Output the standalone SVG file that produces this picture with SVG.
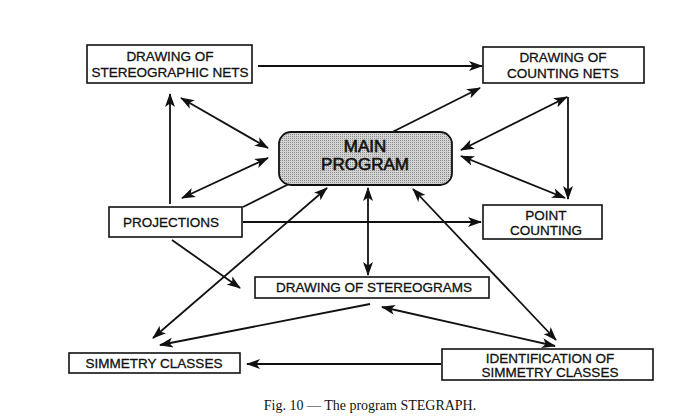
<svg xmlns="http://www.w3.org/2000/svg" width="697" height="417" viewBox="0 0 697 417">
<style>
.box{fill:#fff;stroke:#111;stroke-width:1.6}
.main{fill:url(#dots);stroke:#111;stroke-width:1.8}
.t{font-family:"Liberation Sans",Arial,sans-serif;font-size:13.5px;fill:#111;stroke:#111;stroke-width:0.3;text-anchor:middle}
.tm{font-family:"Liberation Sans",Arial,sans-serif;font-size:17px;fill:#111;stroke:#111;stroke-width:0.6;text-anchor:middle}
.cap{font-family:"Liberation Serif","Times New Roman",serif;font-size:14px;fill:#111;text-anchor:middle}
.c{stroke:#111;stroke-width:1.8;fill:none}
.e{marker-end:url(#ah)}
.b{marker-end:url(#ah);marker-start:url(#ah)}
</style>
<defs>
<marker id="ah" viewBox="0 0 14 10" refX="13" refY="5" markerWidth="14" markerHeight="10" markerUnits="userSpaceOnUse" orient="auto-start-reverse">
<path d="M0,0 L14,5 L0,10 L3.5,5 Z" fill="#111"/>
</marker>
<pattern id="dots" width="2" height="2" patternUnits="userSpaceOnUse">
<rect width="2" height="2" fill="#d4d4d4"/>
<rect width="1" height="1" fill="#8a8a8a"/>
</pattern>
</defs>
<rect width="697" height="417" fill="#fff"/>
<g id="connectors">
<line class="c e" x1="258" y1="66" x2="482" y2="66"/>
<line class="c e" x1="170" y1="204" x2="170" y2="94"/>
<line class="c b" x1="181" y1="98" x2="268" y2="148"/>
<line class="c b" x1="182" y1="198" x2="268" y2="158"/>
<line class="c e" x1="243" y1="207" x2="480" y2="88"/>
<line class="c b" x1="567" y1="97" x2="461" y2="150"/>
<line class="c b" x1="461" y1="156" x2="565" y2="198"/>
<line class="c e" x1="568" y1="97" x2="568" y2="199"/>
<line class="c e" x1="243" y1="222" x2="481" y2="222"/>
<line class="c e" x1="172" y1="240" x2="240" y2="288"/>
<line class="c b" x1="153" y1="338" x2="327" y2="188"/>
<line class="c b" x1="368" y1="188" x2="368" y2="275"/>
<line class="c e" x1="370" y1="304" x2="160" y2="345"/>
<line class="c b" x1="555" y1="346" x2="382" y2="307"/>
<line class="c b" x1="413" y1="189" x2="556" y2="340"/>
<line class="c e" x1="441" y1="364" x2="247" y2="364"/>
</g>
<g id="stereographic-nets">
<rect class="box" x="87" y="45" width="165" height="38"/>
<text class="t" x="170" y="61">DRAWING OF</text>
<text class="t" x="170" y="77">STEREOGRAPHIC NETS</text>
</g>
<g id="counting-nets">
<rect class="box" x="483" y="47" width="161" height="36"/>
<text class="t" x="563" y="62">DRAWING OF</text>
<text class="t" x="563" y="78">COUNTING NETS</text>
</g>
<g id="main-program">
<rect class="main" x="279" y="132" width="173" height="53" rx="12"/>
<text class="tm" x="365" y="152">MAIN</text>
<text class="tm" x="365" y="170">PROGRAM</text>
</g>
<g id="projections">
<rect class="box" x="109" y="207" width="133" height="30"/>
<text class="t" x="171" y="227">PROJECTIONS</text>
</g>
<g id="point-counting">
<rect class="box" x="483" y="205" width="119" height="34"/>
<text class="t" x="546" y="220">POINT</text>
<text class="t" x="546" y="235">COUNTING</text>
</g>
<g id="stereograms">
<rect class="box" x="255" y="277" width="234" height="21"/>
<text class="t" x="374" y="292">DRAWING OF STEREOGRAMS</text>
</g>
<g id="simmetry-classes">
<rect class="box" x="69" y="353" width="171" height="20"/>
<text class="t" x="154" y="368">SIMMETRY CLASSES</text>
</g>
<g id="identification">
<rect class="box" x="442" y="349" width="211" height="31"/>
<text class="t" x="550" y="363">IDENTIFICATION OF</text>
<text class="t" x="550" y="377">SIMMETRY CLASSES</text>
</g>
<text class="cap" x="370" y="410">Fig. 10 — The program STEGRAPH.</text>
</svg>
